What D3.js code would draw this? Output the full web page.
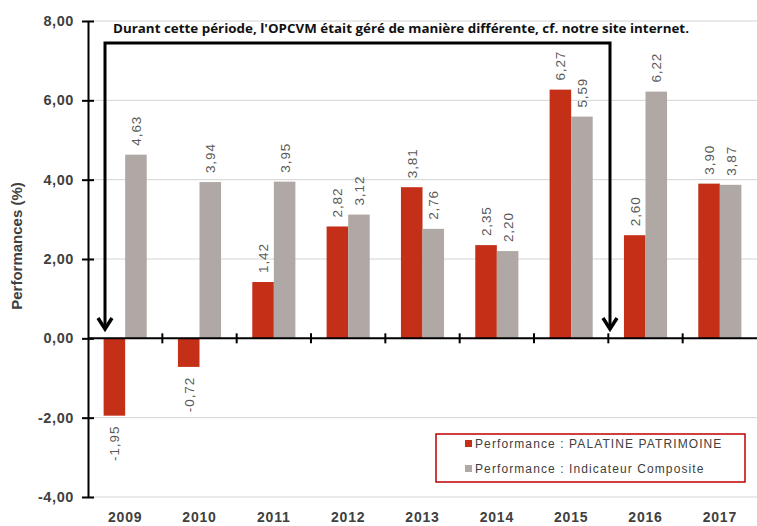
<!DOCTYPE html>
<html>
<head>
<meta charset="utf-8">
<script src="https://cdn.jsdelivr.net/npm/d3@7"></script>
<style>
  body { margin: 0; background: #fff; }
  svg { display: block; font-family: "Liberation Sans", Arial, sans-serif; }
</style>
</head>
<body>
<svg></svg>
<script>
var width = 757;
var height = 526;

var years = ["2009", "2010", "2011", "2012", "2013", "2014", "2015", "2016", "2017"];
var palatine = [-1.95, -0.72, 1.42, 2.82, 3.81, 2.35, 6.27, 2.60, 3.90];
var composite = [4.63, 3.94, 3.95, 3.12, 2.76, 2.20, 5.59, 6.22, 3.87];
var seriesNames = ["Performance : PALATINE PATRIMOINE", "Performance : Indicateur Composite"];
var yTicks = [-4, -2, 0, 2, 4, 6, 8];
var note = "Durant cette période, l'OPCVM était géré de manière différente, cf. notre site internet.";

var colors = ["#c42f18", "#b0a8a5"];
var textGrey = "#595959";
var axisGrey = "#404040";

var svg = d3.select("svg").attr("width", width).attr("height", height);

var xScale = d3.scaleBand()
  .domain(years)
  .range([88, 757])
  .paddingInner(0.42)
  .paddingOuter(0.21);

var xSub = d3.scaleBand()
  .domain([0, 1])
  .range([0, xScale.bandwidth()]);

var yScale = d3.scaleLinear()
  .domain([-4, 8])
  .range([497, 21]);

var fmt = function(v) { return v.toFixed(2).replace(".", ","); };

// gridlines
svg.append("g")
  .selectAll("line")
  .data(yTicks.filter(function(d) { return d !== 0; }))
  .enter()
  .append("line")
  .attr("x1", 88).attr("x2", 757)
  .attr("y1", function(d) { return yScale(d); })
  .attr("y2", function(d) { return yScale(d); })
  .attr("stroke", "#d4d4d4")
  .attr("stroke-width", 1);

// bars
var rows = years.map(function(y, i) {
  return { year: y, values: [palatine[i], composite[i]] };
});

var groups = svg.append("g")
  .selectAll("g")
  .data(rows)
  .enter()
  .append("g")
  .attr("transform", function(d) { return "translate(" + xScale(d.year) + ",0)"; });

groups.selectAll("rect")
  .data(function(d) { return d.values; })
  .enter()
  .append("rect")
  .attr("x", function(d, i) { return xSub(i); })
  .attr("width", xSub.bandwidth())
  .attr("y", function(d) { return yScale(Math.max(0, d)); })
  .attr("height", function(d) { return Math.abs(yScale(d) - yScale(0)); })
  .attr("fill", function(d, i) { return colors[i]; });

// value labels
groups.selectAll("text")
  .data(function(d) { return d.values; })
  .enter()
  .append("text")
  .attr("transform", function(d, i) {
    var cx = xSub(i) + xSub.bandwidth() / 2 + 5;
    var cy = d >= 0 ? yScale(d) - 9 : yScale(d) + 10;
    return "translate(" + cx + "," + cy + ") rotate(-90)";
  })
  .attr("text-anchor", function(d) { return d >= 0 ? "start" : "end"; })
  .attr("font-size", "13.5px")
  .attr("letter-spacing", "0.9px")
  .attr("fill", textGrey)
  .text(function(d) { return fmt(d); });

// y axis
var yAxis = d3.axisLeft(yScale)
  .tickValues(yTicks)
  .tickSize(0)
  .tickPadding(14)
  .tickFormat(fmt);

var yg = svg.append("g")
  .attr("transform", "translate(88,0)")
  .call(yAxis);
yg.select(".domain").attr("stroke", "#000").attr("stroke-width", 2);
yg.selectAll(".tick text")
  .attr("font-size", "14.5px")
  .attr("font-weight", "bold")
  .attr("letter-spacing", "0.6px")
  .attr("fill", axisGrey)
  .attr("font-family", "Liberation Sans, Arial, sans-serif");
yg.selectAll(".tick").append("line")
  .attr("x1", -6).attr("x2", 6)
  .attr("stroke", "#000").attr("stroke-width", 2);

// zero line with category ticks
svg.append("line")
  .attr("x1", 88).attr("x2", 757)
  .attr("y1", yScale(0)).attr("y2", yScale(0))
  .attr("stroke", "#000").attr("stroke-width", 2);

svg.append("g")
  .selectAll("line")
  .data(years.slice(1))
  .enter()
  .append("line")
  .attr("x1", function(d) { return xScale(d) - xScale.step() * xScale.paddingInner() / 2; })
  .attr("x2", function(d) { return xScale(d) - xScale.step() * xScale.paddingInner() / 2; })
  .attr("y1", yScale(0) - 5).attr("y2", yScale(0) + 5)
  .attr("stroke", "#000").attr("stroke-width", 2);

// x labels at bottom
svg.append("g")
  .selectAll("text")
  .data(years)
  .enter()
  .append("text")
  .attr("x", function(d) { return xScale(d) + xScale.bandwidth() / 2; })
  .attr("y", 522)
  .attr("text-anchor", "middle")
  .attr("font-size", "14px")
  .attr("font-weight", "bold")
  .attr("letter-spacing", "0.8px")
  .attr("fill", axisGrey)
  .text(function(d) { return d; });

// y title
svg.append("text")
  .attr("transform", "translate(22,246) rotate(-90)")
  .attr("text-anchor", "middle")
  .attr("font-size", "15px")
  .attr("font-weight", "bold")
  .attr("fill", axisGrey)
  .text("Performances (%)");

// annotation bracket with arrows
var leftX = 105, rightX = 610, topY = 43, tipY = 329;
svg.append("path")
  .attr("d", "M" + leftX + "," + tipY + "V" + topY + "H" + rightX + "V" + tipY)
  .attr("fill", "none")
  .attr("stroke", "#000")
  .attr("stroke-width", 3);
[leftX, rightX].forEach(function(ax) {
  svg.append("path")
    .attr("d", "M" + (ax - 7) + "," + (tipY - 11) + "L" + ax + "," + tipY + "L" + (ax + 7) + "," + (tipY - 11))
    .attr("fill", "none")
    .attr("stroke", "#000")
    .attr("stroke-width", 3.5);
});

svg.append("text")
  .attr("x", 113)
  .attr("y", 33)
  .attr("font-family", "Open Sans, sans-serif")
  .attr("font-size", "12.5px")
  .attr("font-weight", "bold")
  .attr("fill", "#111")
  .attr("textLength", 576)
  .attr("lengthAdjust", "spacingAndGlyphs")
  .text(note);

// legend
var legend = svg.append("g");
legend.append("rect")
  .attr("x", 436).attr("y", 434)
  .attr("width", 309).attr("height", 48)
  .attr("fill", "#fff")
  .attr("stroke", "#c00000")
  .attr("stroke-width", 1.5);

var items = legend.selectAll("g")
  .data(seriesNames)
  .enter()
  .append("g")
  .attr("transform", function(d, i) { return "translate(465," + (448 + i * 25) + ")"; });
items.append("rect")
  .attr("x", 0).attr("y", -8)
  .attr("width", 7).attr("height", 7)
  .attr("fill", function(d, i) { return colors[i]; });
items.append("text")
  .attr("x", 10)
  .attr("y", 0)
  .attr("font-size", "12px")
  .attr("letter-spacing", "1.1px")
  .attr("fill", axisGrey)
  .text(function(d) { return d; });
</script>
</body>
</html>
